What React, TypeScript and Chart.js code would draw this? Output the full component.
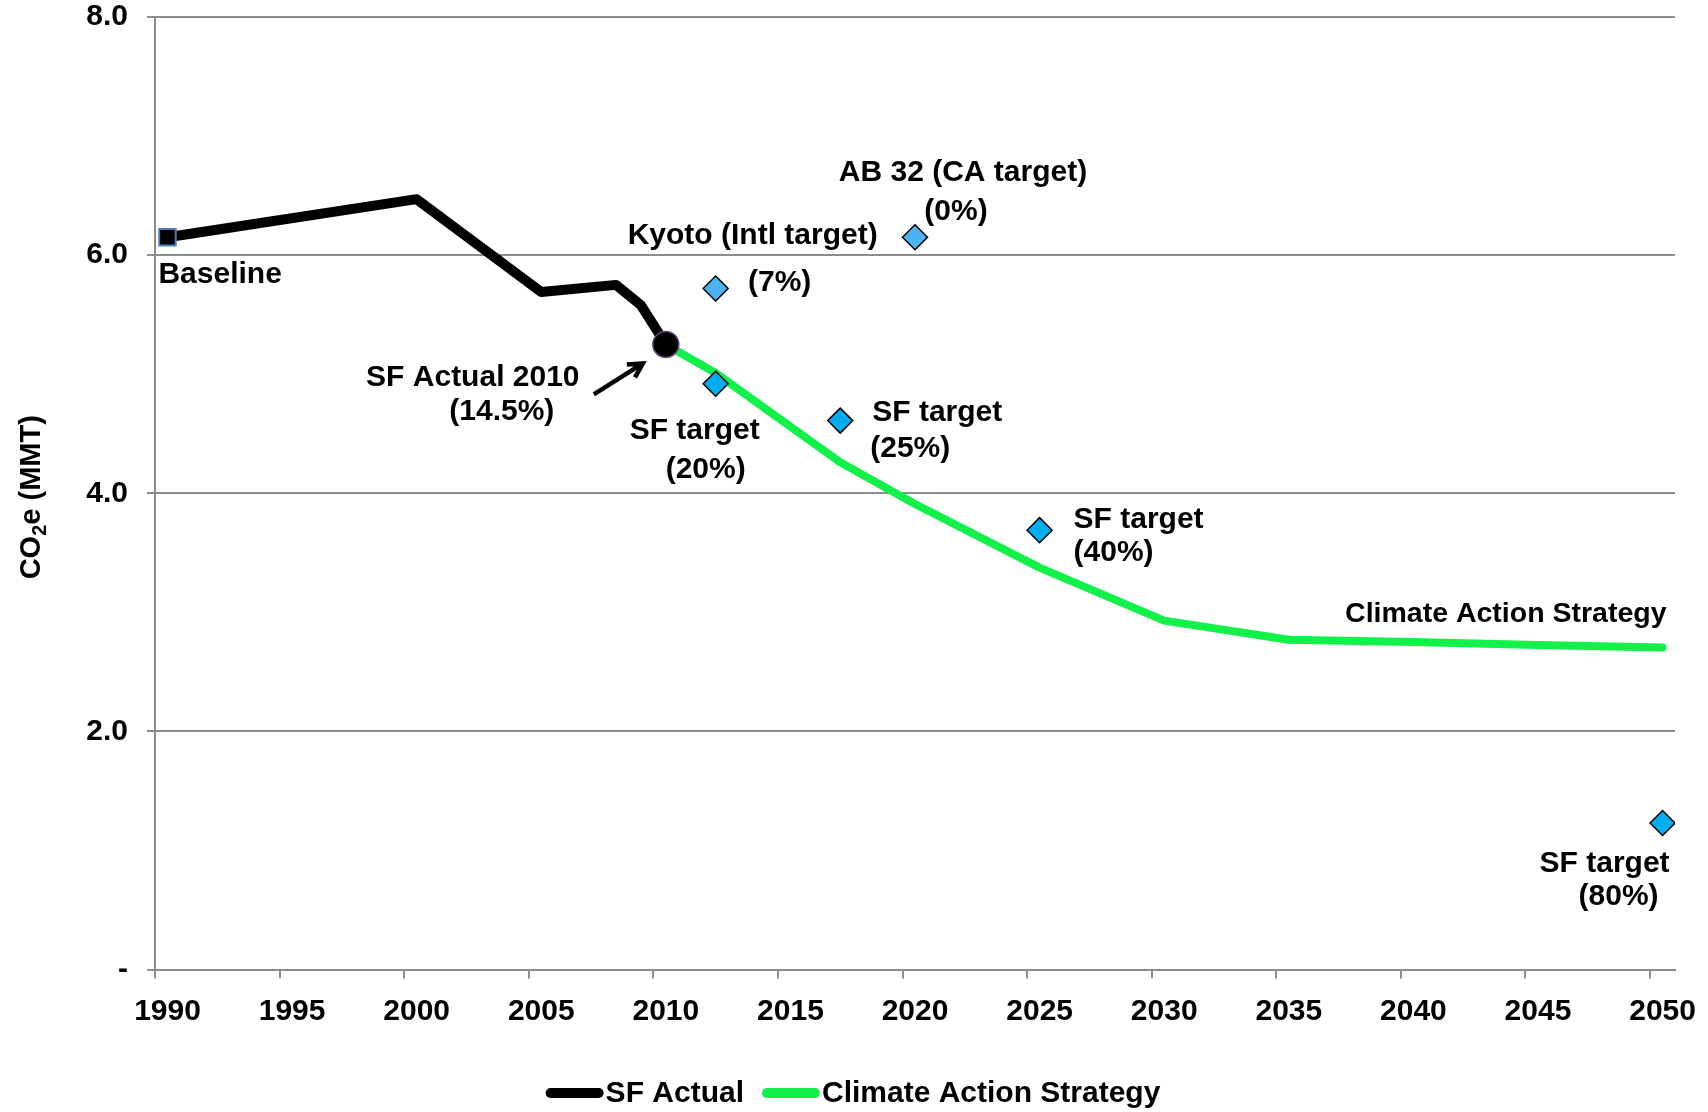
import React, { useEffect, useRef } from 'react';
import { Chart, registerables } from 'chart.js';

Chart.register(...registerables);

// ---------- data ----------
const xTickYears = [1990, 1995, 2000, 2005, 2010, 2015, 2020, 2025, 2030, 2035, 2040, 2045, 2050];
const yTickValues = [0, 2, 4, 6, 8];

const actualYears = [1990, 2000, 2005, 2008, 2009, 2010];
const actualValues = [6.15, 6.47, 5.69, 5.75, 5.58, 5.25];

const strategyYears = [2010, 2012, 2017, 2020, 2025, 2030, 2035, 2040, 2045, 2050];
const strategyValues = [5.25, 5.01, 4.26, 3.91, 3.375, 2.93, 2.77, 2.75, 2.725, 2.705];

const baselineYears = [1990];
const baselineValues = [6.15];

const actual2010Years = [2010];
const actual2010Values = [5.25];
const actual2010Labels = ['SF Actual 2010', '(14.5%)'];

const externalTargetNames = ['Kyoto (Intl target)', 'AB 32 (CA target)'];
const externalTargetPcts = ['(7%)', '(0%)'];
const externalTargetYears = [2012, 2020];
const externalTargetValues = [5.72, 6.15];

const sfTargetNames = ['SF target', 'SF target', 'SF target', 'SF target'];
const sfTargetPcts = ['(20%)', '(25%)', '(40%)', '(80%)'];
const sfTargetYears = [2012, 2017, 2025, 2050];
const sfTargetValues = [4.92, 4.61, 3.69, 1.23];

const seriesNames = ['SF Actual', 'Climate Action Strategy'];
const baselineLabel = 'Baseline';
const yAxisTitle = ['CO', '2', 'e (MMT)'];

// ---------- styles ----------
const FONT_FAMILY = '"Liberation Sans", Arial, sans-serif';
const FONT = `bold 30px ${FONT_FAMILY}`;
const SERIES_LABEL_FONT = `bold 28.5px ${FONT_FAMILY}`;
const GRID = '#8c8c8c';
const BLACK = '#000000';
const GREEN = '#12F04A';
const LIGHT_BLUE = '#4db4f2';
const SF_BLUE = '#00aeef';

// label offsets (pixels, relative to the anchoring point)
const externalLayout = [
  { name: { dx: 37, dy: -53, align: 'center' }, pct: { dx: 64, dy: -6, align: 'center' } },
  { name: { dx: 48, dy: -65, align: 'center' }, pct: { dx: 41, dy: -26, align: 'center' } },
];
const sfLayout = [
  { name: { dx: -21, dy: 47, align: 'center' }, pct: { dx: -10, dy: 86, align: 'center' } },
  { name: { dx: 32, dy: -8, align: 'left' }, pct: { dx: 30, dy: 28, align: 'left' } },
  { name: { dx: 34, dy: -10, align: 'left' }, pct: { dx: 34, dy: 23, align: 'left' } },
  { name: { dx: -58, dy: 41, align: 'center' }, pct: { dx: -44, dy: 74, align: 'center' } },
];

const toXY = (xs: number[], ys: number[]) => xs.map((x, i) => ({ x, y: ys[i] }));

const annotationPlugin = {
  id: 'annotations',
  afterDatasetsDraw(chart: any) {
    const ctx: CanvasRenderingContext2D = chart.ctx;
    const sx = chart.scales.x;
    const sy = chart.scales.y;
    const px = (v: number) => sx.getPixelForValue(v);
    const py = (v: number) => sy.getPixelForValue(v);
    ctx.save();
    ctx.font = FONT;
    ctx.fillStyle = BLACK;
    ctx.textBaseline = 'middle';
    const put = (text: string, ax: number, ay: number, o: any) => {
      ctx.textAlign = o.align;
      ctx.fillText(text, ax + o.dx, ay + o.dy);
    };

    // Baseline
    put(baselineLabel, px(baselineYears[0]), py(baselineValues[0]), { dx: -9, dy: 37, align: 'left' });

    // external targets
    externalTargetNames.forEach((n, i) => {
      const ax = px(externalTargetYears[i]);
      const ay = py(externalTargetValues[i]);
      put(n, ax, ay, externalLayout[i].name);
      put(externalTargetPcts[i], ax, ay, externalLayout[i].pct);
    });

    // SF targets
    sfTargetNames.forEach((n, i) => {
      const ax = px(sfTargetYears[i]);
      const ay = py(sfTargetValues[i]);
      put(n, ax, ay, sfLayout[i].name);
      put(sfTargetPcts[i], ax, ay, sfLayout[i].pct);
    });

    // SF actual 2010 + arrow
    const bx = px(actual2010Years[0]);
    const by = py(actual2010Values[0]);
    put(actual2010Labels[0], bx, by, { dx: -193, dy: 33, align: 'center' });
    put(actual2010Labels[1], bx, by, { dx: -164, dy: 67, align: 'center' });
    const x0 = bx - 72, y0 = by + 50, x1 = bx - 23, y1 = by + 19;
    ctx.strokeStyle = BLACK;
    ctx.lineWidth = 4.5;
    ctx.lineCap = 'butt';
    ctx.beginPath();
    ctx.moveTo(x0, y0);
    ctx.lineTo(x1, y1);
    const ang = Math.atan2(y1 - y0, x1 - x0);
    const hl = 16;
    ctx.moveTo(x1 - hl * Math.cos(ang - 0.5), y1 - hl * Math.sin(ang - 0.5));
    ctx.lineTo(x1, y1);
    ctx.lineTo(x1 - hl * Math.cos(ang + 0.5), y1 - hl * Math.sin(ang + 0.5));
    ctx.stroke();

    // Climate Action Strategy label
    const li = strategyYears.length - 1;
    ctx.font = SERIES_LABEL_FONT;
    put(seriesNames[1], px(strategyYears[li]), py(strategyValues[li]), { dx: 4, dy: -33, align: 'right' });

    // y-axis title with subscript
    const area = chart.chartArea;
    const cy = (area.top + area.bottom) / 2 + 4;
    const cx = 30;
    const mainFont = `bold 29px ${FONT_FAMILY}`;
    const subFont = `bold 20px ${FONT_FAMILY}`;
    ctx.font = mainFont;
    const w0 = ctx.measureText(yAxisTitle[0]).width;
    const w2 = ctx.measureText(yAxisTitle[2]).width;
    ctx.font = subFont;
    const w1 = ctx.measureText(yAxisTitle[1]).width;
    const total = w0 + w1 + w2;
    ctx.translate(cx, cy);
    ctx.rotate(-Math.PI / 2);
    ctx.textAlign = 'left';
    ctx.textBaseline = 'alphabetic';
    let tx = -total / 2;
    ctx.font = mainFont;
    ctx.fillText(yAxisTitle[0], tx, 10);
    tx += w0;
    ctx.font = subFont;
    ctx.fillText(yAxisTitle[1], tx, 16);
    tx += w1;
    ctx.font = mainFont;
    ctx.fillText(yAxisTitle[2], tx, 10);
    ctx.restore();

    // legend
    ctx.save();
    ctx.font = FONT;
    ctx.textBaseline = 'middle';
    ctx.textAlign = 'left';
    const colors = [BLACK, GREEN];
    const lineW = 58;
    const gapText = 2;
    const gapItem = 18;
    const widths = seriesNames.map((n) => ctx.measureText(n).width);
    const legendW = widths.reduce((a, w) => a + lineW + gapText + w, 0) + gapItem;
    let lx = chart.width / 2 - 1 - legendW / 2;
    const ly = 1093;
    seriesNames.forEach((n, i) => {
      ctx.strokeStyle = colors[i];
      ctx.lineWidth = 10;
      ctx.lineCap = 'round';
      ctx.beginPath();
      ctx.moveTo(lx + 5, ly);
      ctx.lineTo(lx + lineW - 5, ly);
      ctx.stroke();
      ctx.fillStyle = BLACK;
      ctx.fillText(n, lx + lineW + gapText, ly + 1);
      lx += lineW + gapText + widths[i] + gapItem;
    });
    ctx.restore();
  },
};

export default function App() {
  const ref = useRef<HTMLCanvasElement | null>(null);

  useEffect(() => {
    document.body.style.margin = '0';
    const canvas = ref.current;
    if (!canvas) return;
    const tickFont = { family: FONT_FAMILY, size: 30, weight: 'bold' as const };
    const chart = new Chart(canvas, {
      type: 'line',
      data: {
        datasets: [
          {
            label: 'SF targets',
            data: toXY(sfTargetYears, sfTargetValues),
            showLine: false,
            pointStyle: 'rectRot',
            pointRadius: 12.5,
            pointBackgroundColor: SF_BLUE,
            pointBorderColor: BLACK,
            pointBorderWidth: 1.5,
            order: 0,
          },
          {
            label: 'External targets',
            data: toXY(externalTargetYears, externalTargetValues),
            showLine: false,
            pointStyle: 'rectRot',
            pointRadius: 12.5,
            pointBackgroundColor: LIGHT_BLUE,
            pointBorderColor: BLACK,
            pointBorderWidth: 1.5,
            order: 0,
          },
          {
            label: 'SF Actual 2010',
            data: toXY(actual2010Years, actual2010Values),
            showLine: false,
            pointStyle: 'circle',
            pointRadius: 13,
            pointBackgroundColor: BLACK,
            pointBorderColor: '#604a7b',
            pointBorderWidth: 1.5,
            order: 1,
          },
          {
            label: 'Baseline',
            data: toXY(baselineYears, baselineValues),
            showLine: false,
            pointStyle: 'rect',
            pointRadius: 11.7,
            pointBackgroundColor: BLACK,
            pointBorderColor: '#4f7fb8',
            pointBorderWidth: 2,
            order: 1,
          },
          {
            label: seriesNames[1],
            data: toXY(strategyYears, strategyValues),
            borderColor: GREEN,
            borderWidth: 8,
            pointRadius: 0,
            tension: 0,
            borderCapStyle: 'round',
            borderJoinStyle: 'round',
            fill: false,
            order: 2,
          },
          {
            label: seriesNames[0],
            data: toXY(actualYears, actualValues),
            borderColor: BLACK,
            borderWidth: 10,
            pointRadius: 0,
            tension: 0,
            borderCapStyle: 'round',
            borderJoinStyle: 'round',
            fill: false,
            order: 3,
          },
        ],
      },
      options: {
        animation: false,
        responsive: false,
        devicePixelRatio: 1,
        layout: { padding: { top: 17, right: 33, left: 0, bottom: 0 } },
        plugins: {
          legend: { display: false },
          title: { display: false },
          tooltip: { enabled: false },
        },
        scales: {
          x: {
            type: 'linear',
            min: 1989.5,
            max: 2050.5,
            afterBuildTicks: (s: any) => {
              s.ticks = xTickYears.map((v) => ({ value: v - 0.5 }));
            },
            afterFit: (s: any) => {
              s.height = 142.5;
              s.paddingLeft = 0;
              s.paddingRight = 0;
            },
            grid: { drawOnChartArea: false, drawTicks: true, tickLength: 9, color: GRID, lineWidth: 2 },
            border: { display: true, color: GRID, width: 2 },
            ticks: {
              autoSkip: false,
              maxRotation: 0,
              minRotation: 0,
              labelOffset: 12.5,
              padding: 15,
              color: BLACK,
              font: tickFont,
              callback: (v: any) => String(Math.round(Number(v) + 0.5)),
            },
          },
          y: {
            type: 'linear',
            min: 0,
            max: 8,
            afterBuildTicks: (s: any) => {
              s.ticks = yTickValues.map((v) => ({ value: v }));
            },
            afterFit: (s: any) => {
              s.width = 155;
              s.paddingTop = 0;
              s.paddingBottom = 0;
            },
            grid: { color: GRID, lineWidth: 2, tickLength: 8, drawTicks: true },
            border: { display: true, color: GRID, width: 2 },
            ticks: {
              padding: 19,
              color: BLACK,
              font: tickFont,
              callback: (v: any) => (Number(v) === 0 ? '-' : Number(v).toFixed(1)),
            },
          },
        },
      },
      plugins: [annotationPlugin],
    } as any);
    return () => chart.destroy();
  }, []);

  return (
    <canvas
      ref={ref}
      width={1708}
      height={1112}
      style={{ display: 'block', width: '1708px', height: '1112px' }}
    />
  );
}
